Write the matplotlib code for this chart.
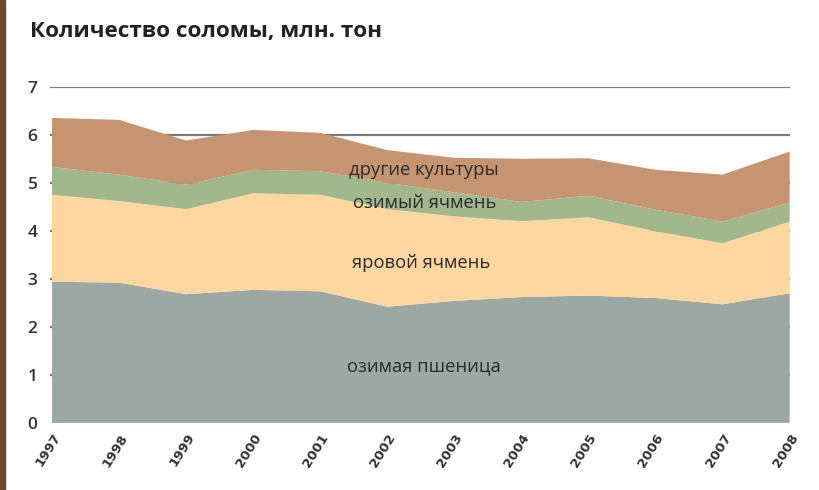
import matplotlib
matplotlib.use("Agg")
import matplotlib.pyplot as plt
from matplotlib.patches import Rectangle

years = [1997, 1998, 1999, 2000, 2001, 2002, 2003, 2004, 2005, 2006, 2007, 2008]
winter_wheat = [2.94, 2.92, 2.68, 2.77, 2.74, 2.42, 2.54, 2.62, 2.65, 2.60, 2.47, 2.70]
spring_barley = [1.81, 1.70, 1.77, 2.01, 2.01, 2.03, 1.76, 1.58, 1.63, 1.39, 1.27, 1.49]
winter_barley = [0.58, 0.55, 0.51, 0.49, 0.49, 0.55, 0.50, 0.40, 0.45, 0.45, 0.45, 0.40]
other_crops = [1.02, 1.14, 0.92, 0.83, 0.80, 0.68, 0.72, 0.90, 0.78, 0.83, 0.98, 1.06]

series_labels = ["озимая пшеница", "яровой ячмень", "озимый ячмень", "другие культуры"]
title = "Количество соломы, млн. тон"
y_ticks = [0, 1, 2, 3, 4, 5, 6, 7]

colors = ["#9ba8a4", "#fdd6a0", "#a2b78e", "#c69470"]

plt.rcParams['font.family'] = ['Open Sans', 'DejaVu Sans']

fig = plt.figure(figsize=(8.2, 4.9), dpi=100)
fig.patch.set_facecolor("white")
ax = fig.add_axes([0.061, 0.137, 0.902, 0.686])

for yv in y_ticks[1:]:
    ax.axhline(yv, color="#7a7a7a", lw=1.6, zorder=0)

ax.stackplot(years, winter_wheat, spring_barley, winter_barley, other_crops,
             colors=colors, zorder=2, linewidth=0)

ax.set_xlim(1996.97, 2008.0)
ax.set_ylim(0, 7)
ax.set_yticks(y_ticks)
ax.set_xticks(years)
ax.set_xticklabels([str(y) for y in years], rotation=58, ha="right", va="top",
                   rotation_mode="anchor", fontsize=9.5, color="#333333",
                   family=["Liberation Sans Narrow", "DejaVu Sans"])
for lab in ax.get_xticklabels():
    lab.set_fontweight("bold")
ax.tick_params(axis="x", length=0, pad=6)
ax.tick_params(axis="y", length=0, pad=9, labelsize=12.5, labelcolor="#333333")
for lab in ax.get_yticklabels():
    lab.set_fontweight("semibold")
for s in ax.spines.values():
    s.set_visible(False)

# label positions on the stacked bands
label_pos = [(2002.55, 1.17), (2002.5, 3.33), (2002.55, 4.58), (2002.55, 5.27)]
for (lx, ly), txt in zip(label_pos, series_labels):
    ax.text(lx, ly, txt, ha="center", va="center", fontsize=13.2,
            color="#2b2b2b", zorder=5)

fig.text(0.036, 0.935, title, ha="left", va="center", fontsize=16.2,
         fontweight="bold", color="#222222")

# thin dark textured strip on left edge (photo background)
fig.patches.append(Rectangle((0, 0), 0.006, 1, transform=fig.transFigure,
                             color="#6b4a2b", zorder=10))

fig.savefig("out.png", dpi=100)
